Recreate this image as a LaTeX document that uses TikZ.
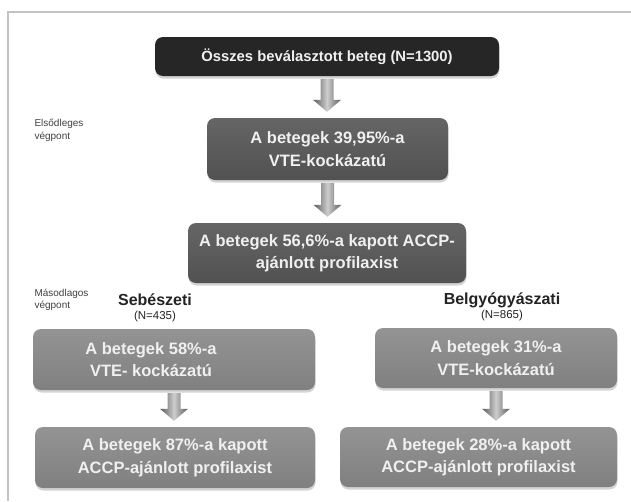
\documentclass[tikz,border=0pt]{standalone}
\usepackage{fontspec}
\setmainfont{Liberation Sans}
\usetikzlibrary{calc, shadows}
\definecolor{boxblack}{RGB}{38,38,38}
\definecolor{boxdark}{RGB}{88,88,88}
\definecolor{boxlight}{RGB}{142,142,142}
\definecolor{framegray}{RGB}{195,195,195}
\definecolor{arrowdark}{RGB}{90,90,90}
\definecolor{arrowlight}{RGB}{205,205,205}
\definecolor{headgray}{RGB}{35,35,35}
% block arrow between two boxes, optional sideways shift
\newcommand{\flowarrow}[3][0pt]{%
  \shade[arrowshade, xshift=#1] let \p1=(#2.south), \p2=(#3.north) in
    (\x1-6.5pt,\y1-3pt) -- (\x1+6.5pt,\y1-3pt) -- (\x1+6.5pt,\y2+18pt)
    -- (\x1+14pt,\y2+18pt) -- (\x1,\y2+6pt) -- (\x1-14pt,\y2+18pt)
    -- (\x1-6.5pt,\y2+18pt) -- cycle;}

\begin{document}
\begin{tikzpicture}[x=1pt, y=1pt,
  boxtext/.style={align=center, text=white!94!black, font=\bfseries\fontsize{16.5}{22.5}\selectfont},
  box/.style={boxtext, rounded corners=8pt, minimum height=61pt, inner sep=0pt,
    drop shadow={opacity=0.35, shadow xshift=0.5pt, shadow yshift=-2.5pt}},
  darkbox/.style={box, fill=boxblack, minimum height=39pt, font=\bfseries\fontsize{14.8}{18}\selectfont},
  midbox/.style={box, top color=boxdark!92!white, bottom color=boxdark!92!black},
  lightbox/.style={box, top color=boxlight!95!white, bottom color=boxlight!90!black},
  arrowshade/.style={left color=arrowdark, right color=arrowdark, middle color=arrowlight},
  sidelabel/.style={anchor=west, align=left, text=black!75, font=\fontsize{10}{12.5}\selectfont},
  head/.style={text=headgray, font=\bfseries\fontsize{16}{18}\selectfont},
  count/.style={text=headgray, font=\fontsize{11.5}{13}\selectfont}]
\useasboundingbox (0,0) rectangle (631,-501);

% Frame
\draw[framegray, line width=2pt] (631,-12) -- (8,-12) -- (8,-501);

% Main column
\node[darkbox, minimum width=344pt] (all) at (327,-56.5) {Összes beválasztott beteg (N=1300)};
\node[midbox, minimum width=241pt, minimum height=62pt] (vte) at (327.5,-149) {A betegek 39,95\%-a\\VTE-kockázatú};
\node[midbox, minimum width=278pt, minimum height=60pt] (accp) at (327,-253) {A betegek 56,6\%-a kapott ACCP-\\ajánlott profilaxist};

\node[sidelabel] (primary) at (31,-130.5) {Elsődleges\\végpont};
\node[sidelabel] (secondary) at (31,-300) {Másodlagos\\végpont};

% Surgical branch
\node[head] (sebhead) at (155,-300) {Sebészeti};
\node[count] (sebn) at (155,-317) {(N=435)};
\node[lightbox, minimum width=282pt] (sebvte) at (174,-359.5) {};
\node[boxtext] (sebvtetext) at ($(sebvte.center)+(-23,0)$) {A betegek 58\%-a\\VTE- kockázatú};
\node[lightbox, minimum width=280pt] (sebaccp) at (175,-457.5) {A betegek 87\%-a kapott\\ACCP-ajánlott profilaxist};

% Medical branch
\node[head] (belhead) at (502,-300) {Belgyógyászati};
\node[count] (beln) at (502,-316) {(N=865)};
\node[lightbox, minimum width=242pt, minimum height=60pt] (belvte) at (496,-358) {A betegek 31\%-a\\VTE-kockázatú};
\node[lightbox, minimum width=277pt, minimum height=60pt] (belaccp) at (478.5,-457) {A betegek 28\%-a kapott\\ACCP-ajánlott profilaxist};

% Arrows
\flowarrow[5pt]{all}{vte}
\flowarrow[3pt]{vte}{accp}
\flowarrow[-34pt]{sebvte}{sebaccp}
\flowarrow[-3pt]{belvte}{belaccp}
\end{tikzpicture}
\end{document}
